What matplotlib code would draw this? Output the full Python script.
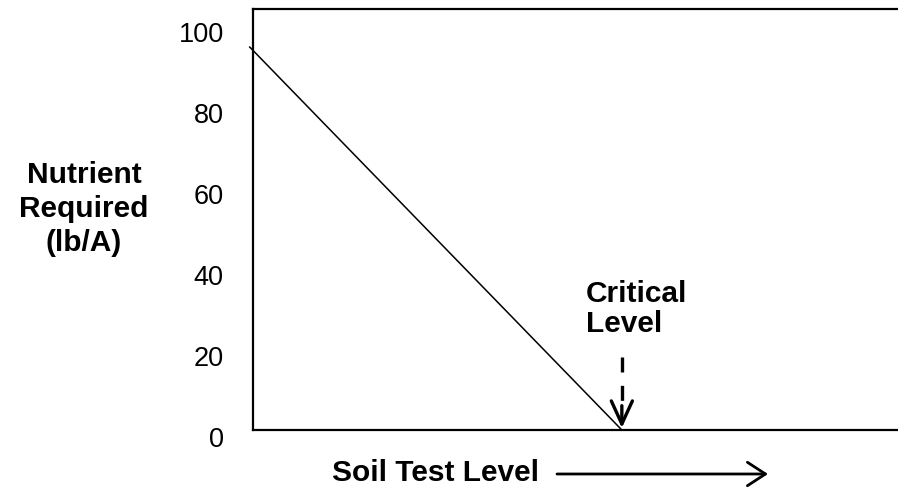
import matplotlib
matplotlib.use("Agg")
import matplotlib.pyplot as plt
from matplotlib.patches import FancyArrowPatch
from matplotlib.transforms import ScaledTranslation

plt.rcParams["font.family"] = ["Liberation Sans", "DejaVu Sans"]

W, H = 898, 491

# Nutrient requirement falls linearly to zero at the critical soil test level
soil_level = [-0.5, 56.4]
nutrient_req = [94.6, 0.0]
critical_level = 56.4
y_ticks = [0, 20, 40, 60, 80, 100]
y_tick_labels = ["0", "20", "40", "60", "80", "100"]


def px(x, y):
    """Pixel position -> figure fraction."""
    return x / W, 1 - y / H


fig = plt.figure(figsize=(W / 100, H / 100), dpi=100)
ax = fig.add_axes([253 / W, 1 - 430 / H, 1 - 253 / W + 0.01, (430 - 9) / H])

ax.plot(soil_level, nutrient_req, color="black", lw=1.1, clip_on=False)
ax.set_xlim(0, 100)
ax.set_ylim(0, 104)

for s in ax.spines.values():
    s.set_linewidth(1.6)

ax.set_xticks([])
ax.set_yticks(y_ticks)
ax.set_yticklabels(y_tick_labels, fontsize=19.5)
ax.tick_params(axis="y", length=0, pad=21)
shift = ScaledTranslation(0, -7 / 100, fig.dpi_scale_trans)
for lbl in ax.get_yticklabels():
    lbl.set_transform(lbl.get_transform() + shift)

# dashed pointer down to the critical level
ax.plot([critical_level, critical_level], [18.0, 5.5], color="black",
        lw=2.4, dashes=(4.5, 4.0), solid_capstyle="butt", dash_capstyle="butt")
ax.annotate("", xy=(critical_level, 0.5), xytext=(critical_level, 6.0),
            arrowprops=dict(arrowstyle="->,head_length=1.66,head_width=0.76",
                            mutation_scale=10, lw=2.4, color="black",
                            shrinkA=0, shrinkB=0))
fig.text(*px(586, 332), "Critical\nLevel", fontsize=21.5, fontweight="bold",
         ha="left", va="baseline", linespacing=1.07)

fig.text(*px(84, 209), "Nutrient\nRequired\n(lb/A)", fontsize=21.5,
         fontweight="bold", ha="center", va="center", multialignment="center",
         linespacing=1.28)

fig.text(*px(435, 481), "Soil Test Level", fontsize=21.5, fontweight="bold",
         ha="center", va="baseline")
fig.add_artist(FancyArrowPatch(
    px(557, 474), px(768, 474), transform=fig.transFigure,
    arrowstyle="->,head_length=1.0,head_width=0.65", mutation_scale=13,
    lw=2.0, color="black", shrinkA=0, shrinkB=0))

fig.savefig("out.png", dpi=100)
